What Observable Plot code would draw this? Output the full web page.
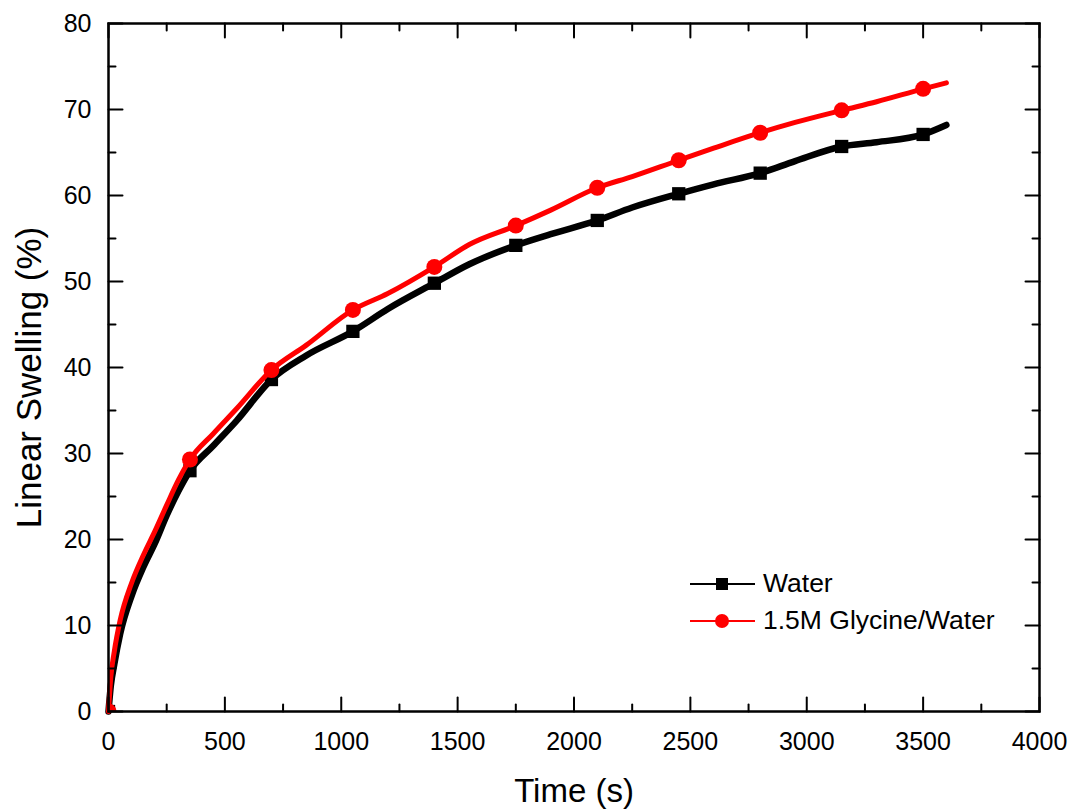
<!DOCTYPE html>
<html>
<head>
<meta charset="utf-8">
<script src="https://cdn.jsdelivr.net/npm/d3@7"></script>
<script src="https://cdn.jsdelivr.net/npm/@observablehq/plot@0.6"></script>
<style>
  html, body { margin: 0; padding: 0; background: #fff; }
  #wrap { position: relative; width: 1081px; height: 811px; font-family: "Liberation Sans", Arial, sans-serif; }
  #legend { position: absolute; left: 690px; top: 565px; font-size: 26.5px; color: #000; }
  .row { display: flex; align-items: center; height: 37px; }
  .row svg { margin-right: 8px; }
</style>
</head>
<body>
<div id="wrap"></div>
<script>
// Data
const time = [0, 10, 25, 50, 100, 150, 200, 250, 300, 350, 450, 550, 700, 850, 1050, 1200, 1400, 1550, 1750, 1900, 2100, 2250, 2450, 2600, 2800, 2950, 3150, 3300, 3500, 3600];
const water = [0, 3.0, 5.5, 9.0, 13.5, 16.8, 19.6, 22.8, 25.6, 28.0, 30.9, 33.8, 38.6, 41.4, 44.2, 46.8, 49.8, 52.0, 54.2, 55.5, 57.1, 58.6, 60.2, 61.3, 62.6, 64.0, 65.7, 66.2, 67.1, 68.2];
const glycine = [0, 4.0, 7.0, 10.6, 15.0, 18.2, 21.0, 24.0, 26.9, 29.3, 32.3, 35.2, 39.7, 42.6, 46.7, 48.6, 51.7, 54.3, 56.5, 58.3, 60.9, 62.2, 64.1, 65.5, 67.3, 68.5, 69.9, 70.9, 72.4, 73.1];
const markerTimes = [0, 350, 700, 1050, 1400, 1750, 2100, 2450, 2800, 3150, 3500];
const seriesNames = ["Water", "1.5M Glycine/Water"];
const seriesColors = ["#000000", "#ff0000"];
const xTicks = [0, 500, 1000, 1500, 2000, 2500, 3000, 3500, 4000];
const xMinor = [250, 750, 1250, 1750, 2250, 2750, 3250, 3750];
const yTicks = [0, 10, 20, 30, 40, 50, 60, 70, 80];
const yMinor = [5, 15, 25, 35, 45, 55, 65, 75];
const xTitle = "Time (s)";
const yTitle = "Linear Swelling (%)";

const waterData = time.map((t, i) => ({t, v: water[i]}));
const glyData = time.map((t, i) => ({t, v: glycine[i]}));
const waterMarks = waterData.filter(d => markerTimes.includes(d.t));
const glyMarks = glyData.filter(d => markerTimes.includes(d.t));

const font = "Liberation Sans, Arial, sans-serif";
// plain tick segment shape for vectors (no arrowhead)
const segment = {draw(context, l) { context.moveTo(0, 0); context.lineTo(0, -l); }};
const inTicks = (data, channel, frameAnchor, rotate, length) =>
  Plot.vector(data, {[channel]: d => d, frameAnchor, rotate, length, anchor: "start", shape: segment, stroke: "black", strokeWidth: 2});

const chart = Plot.plot({
  width: 1081,
  height: 811,
  marginLeft: 108,
  marginRight: 42,
  marginTop: 23,
  marginBottom: 100,
  style: {fontFamily: font, fontSize: "25px", background: "white", color: "black"},
  x: {domain: [0, 4000]},
  y: {domain: [0, 80]},
  marks: [
    Plot.line(waterData, {x: "t", y: "v", stroke: seriesColors[0], strokeWidth: 6.5, curve: "monotone-x"}),
    Plot.dot(waterMarks, {x: "t", y: "v", symbol: "square", r: 7.5, fill: seriesColors[0], clip: "frame"}),
    Plot.line(glyData, {x: "t", y: "v", stroke: seriesColors[1], strokeWidth: 5, curve: "monotone-x"}),
    Plot.dot(glyMarks, {x: "t", y: "v", symbol: "circle", r: 8, fill: seriesColors[1], clip: "frame"}),
    // tick labels
    Plot.axisX(xTicks, {anchor: "bottom", tickSize: 0, tickPadding: 21, fontSize: 25, tickFormat: d3.format("d"), label: null}),
    Plot.axisY(yTicks, {anchor: "left", tickSize: 0, tickPadding: 17, fontSize: 25, tickFormat: d3.format("d"), label: null}),
    // inward ticks on all four sides
    inTicks(xTicks, "x", "bottom", 0, 14),
    inTicks(xMinor, "x", "bottom", 0, 7),
    inTicks(xTicks, "x", "top", 180, 14),
    inTicks(xMinor, "x", "top", 180, 7),
    inTicks(yTicks, "y", "left", 90, 14),
    inTicks(yMinor, "y", "left", 90, 7),
    inTicks(yTicks, "y", "right", -90, 14),
    inTicks(yMinor, "y", "right", -90, 7),
    Plot.frame({stroke: "black", strokeWidth: 2.5}),
    // axis titles
    Plot.text([xTitle], {frameAnchor: "bottom", dy: 80, text: d => d, fontSize: 33, textAnchor: "middle", lineAnchor: "middle"}),
    Plot.text([yTitle], {frameAnchor: "left", dx: -79, dy: 10, text: d => d, fontSize: 35, rotate: -90, textAnchor: "middle", lineAnchor: "middle"})
  ]
});

const wrap = document.getElementById("wrap");
wrap.appendChild(chart);

// Legend overlay (inside the plot area, as in the reference)
const legend = document.createElement("div");
legend.id = "legend";
const shapes = [
  `<rect x="26" y="12" width="12" height="12" fill="${seriesColors[0]}"/>`,
  `<circle cx="32" cy="18" r="7" fill="${seriesColors[1]}"/>`
];
seriesNames.forEach((name, i) => {
  const row = document.createElement("div");
  row.className = "row";
  row.innerHTML = `<svg width="65" height="36"><line x1="0" x2="65" y1="18" y2="18" stroke="${seriesColors[i]}" stroke-width="2"/>${shapes[i]}</svg><span>${name}</span>`;
  legend.appendChild(row);
});
wrap.appendChild(legend);
</script>
</body>
</html>
